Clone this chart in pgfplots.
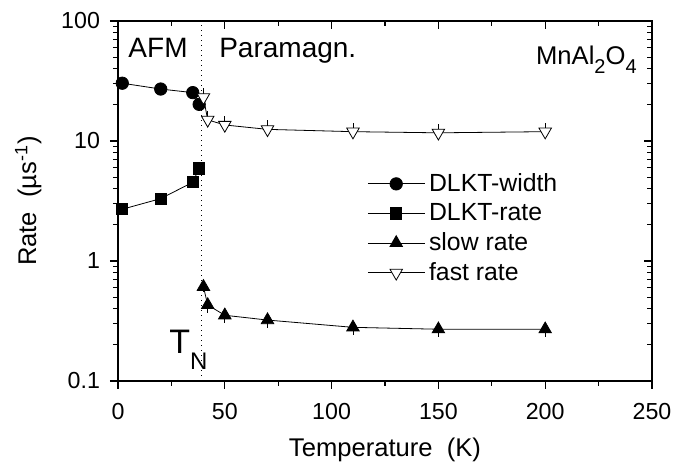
\documentclass[border=0pt]{standalone}
\usepackage{pgfplots}
\pgfplotsset{compat=1.18}
\usepackage{fontspec}
\setmainfont{Liberation Sans}
\begin{document}
\begin{tikzpicture}
\begin{axis}[
  name=ax,
  scale only axis,
  width=267pt, height=180pt,
  xmin=0, xmax=250, ymin=0.1, ymax=100,
  ymode=log,
  xtick={0,50,100,150,200,250},
  minor x tick num=1,
  ytick={0.1,1,10,100},
  yticklabels={0.1,1,10,100},
  xtick pos=left, ytick pos=left,
  tick align=outside,
  major tick length=4pt, minor tick length=2.5pt,
  axis line style={line width=0.6pt},
  every tick/.style={line width=0.6pt, black},
  /pgf/number format/assume math mode=true,
  ticklabel style={font=\fontsize{11.6}{13}\selectfont},
  xticklabel style={yshift=-3.5pt},
  yticklabel style={xshift=-1.5pt},
  xlabel={Temperature\ \ (K)},
  ylabel={Rate\ \ (µs\textsuperscript{-1})},
  xlabel style={yshift=-2.25pt},
  ylabel style={yshift=3pt},
  label style={font=\fontsize{12.8}{14}\selectfont},
  legend cell align=left,
  legend style={draw=none, fill=none, at={(rel axis cs:0.455,0.6)}, anchor=north west,
    font=\fontsize{12.4}{14}\selectfont, row sep=0.5pt},
  legend image code/.code={\draw[mark repeat=2,mark phase=2] plot coordinates {(0cm,0cm) (0.5cm,0cm) (1cm,0cm)};},
]
\addplot[black, line width=0.5pt, forget plot, dotted] coordinates {(39,0.1) (39,100)};
\addplot[black, line width=0.4pt, mark=*, mark size=3.1pt, mark options={solid, fill=black}]
  coordinates {(2,30.3) (20,27.1) (35,25.3) (38,20.2)};
\addlegendentry{DLKT-width}
\addplot[black, line width=0.4pt, mark=square*, mark size=2.8pt, mark options={solid, fill=black}]
  coordinates {(2,2.70) (20,3.31) (35,4.53) (38,5.92)};
\addlegendentry{DLKT-rate}
\addplot[black, line width=0.4pt, mark=triangle*, mark size=3.6pt, mark options={solid, fill=black},
  error bars/.cd, y dir=both, y explicit relative, error mark=none, error bar style={line width=0.4pt}]
  coordinates {(40,0.61) += (0,0.08) -= (0,0.1) (42,0.43) += (0,0.1) -= (0,0.14) (50,0.353) += (0,0.1) -= (0,0.14)
   (70,0.322) += (0,0.1) -= (0,0.14) (110,0.28) += (0,0.1) -= (0,0.14) (150,0.27) += (0,0.1) -= (0,0.14)
   (200,0.27) += (0,0.1) -= (0,0.14)};
\addlegendentry{slow rate}
\addplot[black, line width=0.4pt, mark=triangle*, mark size=3.6pt, mark options={solid, fill=white, rotate=180},
  error bars/.cd, y dir=both, y explicit relative, error mark=none, error bar style={line width=0.4pt}]
  coordinates {(40,23.1) += (0,0.19) -= (0,0.1) (42,15.0) += (0,0.19) -= (0,0.1) (50,13.6) += (0,0.19) -= (0,0.1)
   (70,12.5) += (0,0.19) -= (0,0.1) (110,11.96) += (0,0.19) -= (0,0.1) (150,11.7) += (0,0.19) -= (0,0.1)
   (200,11.96) += (0,0.19) -= (0,0.1)};
\addlegendentry{fast rate}
\node[font=\fontsize{14}{16}\selectfont, anchor=base] at (rel axis cs:0.075,0.899) {AFM};
\node[font=\fontsize{14}{16}\selectfont, anchor=base] at (rel axis cs:0.318,0.899) {Paramagn.};
\node[font=\fontsize{12.8}{14}\selectfont, anchor=base east, inner sep=0pt] at (rel axis cs:0.972,0.878) {MnAl\raisebox{-0.35em}{\fontsize{10}{11}\selectfont 2}O\raisebox{-0.35em}{\fontsize{10}{11}\selectfont 4}};
\node[font=\fontsize{17}{18}\selectfont, anchor=base west] at (rel axis cs:0.083,0.075) {T\raisebox{-0.45em}{\fontsize{12}{13}\selectfont N}};
\end{axis}
\begin{axis}[
  scale only axis,
  width=267pt, height=180pt,
  xmin=0, xmax=250, ymin=0.1, ymax=100,
  ymode=log,
  xtick={0,50,100,150,200,250},
  minor x tick num=1,
  ytick={0.1,1,10,100},
  xticklabels={}, yticklabels={},
  xtick pos=right, ytick pos=right,
  tick align=inside,
  major tick length=4pt, minor tick length=2.5pt,
  axis line style={line width=0.6pt},
  every tick/.style={line width=0.6pt, black},
]
\end{axis}
\pgfresetboundingbox
\path ([xshift=-59pt,yshift=-41.5pt]ax.south west) rectangle ([xshift=12pt,yshift=10.5pt]ax.north east);
\end{tikzpicture}
\end{document}
